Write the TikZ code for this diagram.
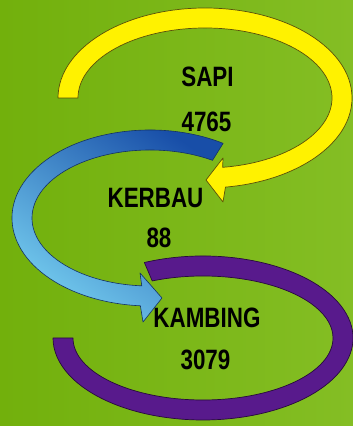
\documentclass[tikz,border=0pt]{standalone}
\usepackage{fontspec}
\setmainfont{Liberation Sans}
\usetikzlibrary{calc}
\definecolor{bgleft}{RGB}{114,176,12}
\definecolor{bgright}{RGB}{132,190,36}
\definecolor{yel}{RGB}{255,242,0}
\definecolor{yeledge}{RGB}{90,80,10}
\definecolor{bluetop}{RGB}{24,78,168}
\definecolor{bluemid}{RGB}{56,150,218}
\definecolor{bluebot}{RGB}{120,210,242}
\definecolor{blueedge}{RGB}{20,50,100}
\definecolor{purp}{RGB}{88,26,140}
\definecolor{purpedge}{RGB}{40,10,60}
\tikzset{
  lbl/.style={font=\bfseries\fontsize{28}{28}\selectfont, xscale=0.8, inner sep=0pt, anchor=base, text=black},
  yband/.style={fill=yel, draw=yeledge, line width=0.7pt, line join=round},
  bband/.style={top color=bluetop, middle color=bluemid, bottom color=bluebot, shading angle=-35, draw=blueedge, line width=0.6pt, line join=round},
  pband/.style={fill=purp, draw=purpedge, line width=0.7pt, line join=round}
}
\begin{document}
\begin{tikzpicture}[x=1pt,y=1pt]
\useasboundingbox (0,0) rectangle (353,426);
\shade[left color=bgleft, right color=bgright] (0,0) rectangle (353,426);
\coordinate (yc) at (205,328);
\coordinate (bc) at (150,208);
\coordinate (pc) at (203,88);
% yellow arrow
\path[yband] ($(yc)+(180:147pt and 90pt)$) arc[start angle=180,end angle=-82,x radius=147pt,y radius=90pt]
  -- (223,224) -- (206,246) -- (223,268)
  -- ($(yc)+(-82:127pt and 70pt)$) arc[start angle=-82,end angle=180,x radius=127pt,y radius=70pt] -- cycle;
% purple band
\path[pband] ($(pc)+(113:150pt and 82pt)$) arc[start angle=113,end angle=-180,x radius=150pt,y radius=82pt]
  -- ($(pc)+(-180:130pt and 62pt)$) arc[start angle=-180,end angle=113,x radius=130pt,y radius=62pt] -- cycle;
% blue arrow
\path[bband] ($(bc)+(58:138pt and 88pt)$) arc[start angle=58,end angle=266,x radius=138pt,y radius=88pt]
  -- (143,104) -- (162,128) -- (140,153)
  -- ($(bc)+(266:118pt and 68pt)$) arc[start angle=266,end angle=58,x radius=118pt,y radius=68pt] -- cycle;
% labels
\node[lbl] (sapi) at (207.5,339) {SAPI};
\node[lbl] (sapin) at (206.5,294) {4765};
\node[lbl] (kerbau) at (155.5,218) {KERBAU};
\node[lbl] (kerbaun) at (159,178) {88};
\node[lbl] (kambing) at (207,98) {KAMBING};
\node[lbl] (kambingn) at (205.5,56) {3079};
\end{tikzpicture}
\end{document}
